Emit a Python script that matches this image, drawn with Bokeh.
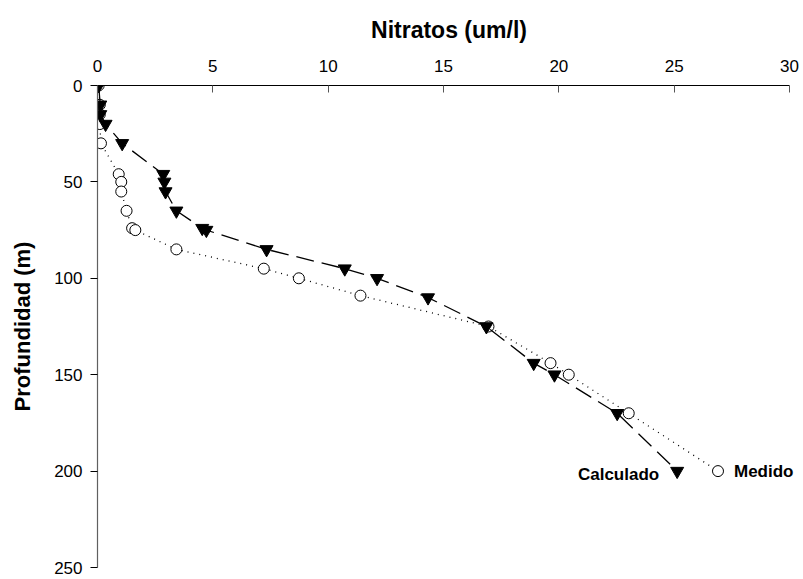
from bokeh.plotting import figure
from bokeh.models import Range1d, FixedTicker, Label
from bokeh.embed import file_html
from bokeh.resources import INLINE

# Data (depth in m, nitrate in um/l)
calc_depth = [0, 10, 15, 20, 30, 46, 50, 55, 65, 74, 75, 85, 95, 100, 110, 125, 144, 150, 170, 200]
calc_nitr = [0.05, 0.12, 0.12, 0.35, 1.07, 2.85, 2.9, 2.95, 3.42, 4.54, 4.72, 7.33, 10.72, 12.12, 14.33, 16.86, 18.91, 19.81, 22.53, 25.13]

med_depth = [0, 10, 15, 20, 30, 46, 50, 55, 65, 74, 75, 85, 95, 100, 109, 125, 144, 150, 170, 200]
med_nitr = [0.05, 0.1, 0.1, 0.1, 0.15, 0.92, 1.03, 1.03, 1.26, 1.5, 1.64, 3.42, 7.21, 8.73, 11.4, 16.95, 19.64, 20.43, 23.03, 26.9]

x_ticks = [0, 5, 10, 15, 20, 25, 30]
y_ticks = [0, 50, 100, 150, 200, 250]

FONT = "Liberation Sans"

# frame spans 0..30 over 692 px; extra room on the right for the "Medido" label
X_END = 30 * (800 - 97) / 692

p = figure(width=800, height=577, output_backend="svg", toolbar_location=None,
           x_axis_location="above",
           x_range=Range1d(0, X_END), y_range=Range1d(250, 0),
           min_border_left=97, min_border_top=85, min_border_right=0, min_border_bottom=10)
p.outline_line_color = None
p.xgrid.visible = False
p.ygrid.visible = False
p.background_fill_color = "white"
p.border_fill_color = "white"

# X axis (top)
xa = p.xaxis[0]
xa.bounds = (0, 30)
xa.ticker = FixedTicker(ticks=x_ticks)
xa.axis_label = "Nitratos (um/l)"
xa.axis_label_text_font = FONT
xa.axis_label_text_font_style = "bold"
xa.axis_label_text_font_size = "23px"
xa.axis_label_text_color = "black"
xa.axis_label_standoff = 14
xa.major_label_text_font = FONT
xa.major_label_text_font_size = "17px"
xa.major_label_text_color = "black"
xa.major_label_standoff = 14
xa.major_tick_in = 7
xa.major_tick_out = 0
xa.minor_tick_in = 0
xa.minor_tick_out = 0
xa.axis_line_color = "black"
xa.axis_line_width = 1.2
xa.major_tick_line_color = "#555555"

# Y axis (left)
ya = p.yaxis[0]
ya.ticker = FixedTicker(ticks=y_ticks)
ya.axis_label = "Profundidad (m)"
ya.axis_label_text_font = FONT
ya.axis_label_text_font_style = "bold"
ya.axis_label_text_font_size = "22px"
ya.axis_label_text_color = "black"
ya.axis_label_standoff = 16
ya.major_label_text_font = FONT
ya.major_label_text_font_size = "17px"
ya.major_label_text_color = "black"
ya.major_label_standoff = 8
ya.major_tick_in = 0
ya.major_tick_out = 7
ya.minor_tick_in = 0
ya.minor_tick_out = 0
ya.axis_line_color = "#606060"
ya.axis_line_width = 1.2
ya.major_tick_line_color = "black"

# Medido: dotted line + open circles
p.line(med_nitr, med_depth, line_color="black", line_width=1.3, line_dash="1 5")
p.scatter(med_nitr, med_depth, marker="circle", size=11, fill_color="white",
          line_color="black", line_width=1)

# Calculado: long-dash line + filled inverted triangles
p.line(calc_nitr, calc_depth, line_color="black", line_width=1.3, line_dash="18 8")
p.scatter(calc_nitr, calc_depth, marker="inverted_triangle", size=13,
          fill_color="black", line_color="black")

# Series labels at the last points
p.add_layout(Label(x=calc_nitr[-1], y=calc_depth[-1], text="Calculado",
                   x_offset=-18, y_offset=-3, text_align="right", text_baseline="middle",
                   text_font=FONT, text_font_style="bold", text_font_size="17px",
                   text_color="black"))
p.add_layout(Label(x=med_nitr[-1], y=med_depth[-1], text="Medido",
                   x_offset=16, y_offset=0, text_align="left", text_baseline="middle",
                   text_font=FONT, text_font_style="bold", text_font_size="17px",
                   text_color="black"))

open("out.html", "w").write(file_html(p, INLINE))
